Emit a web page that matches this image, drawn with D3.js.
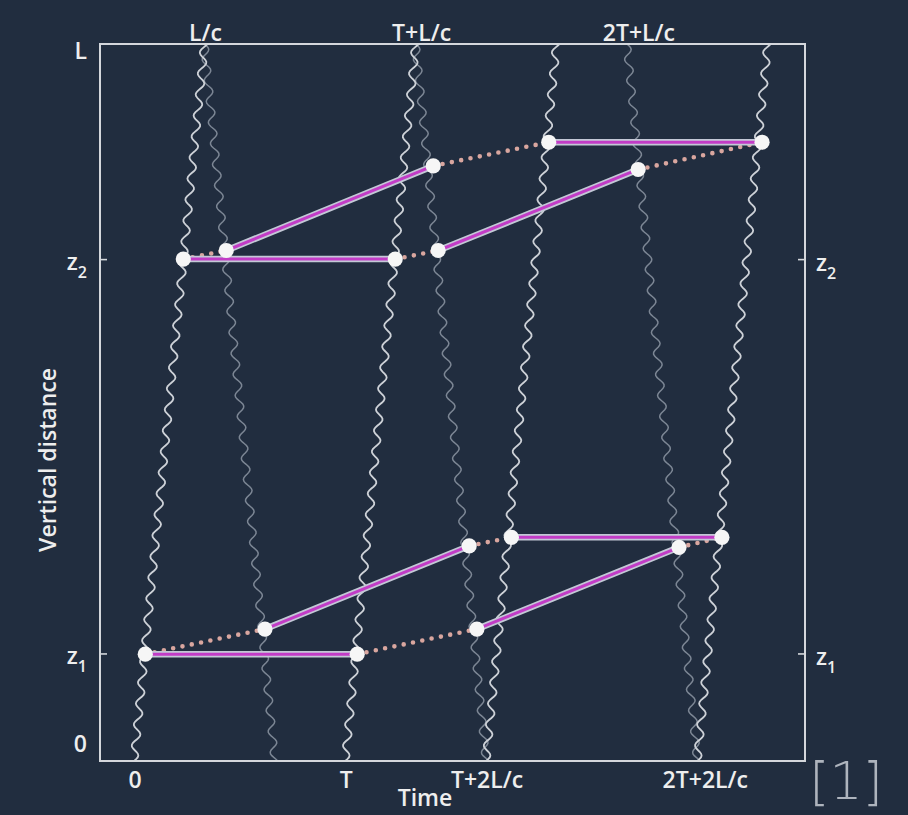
<!DOCTYPE html>
<html>
<head>
<meta charset="utf-8">
<script src="https://cdn.jsdelivr.net/npm/d3@7/dist/d3.min.js"></script>
<style>
  html, body { margin: 0; padding: 0; background: #212d3f; }
  svg { display: block; }
  text { font-family: "Open Sans", "Lato", sans-serif; fill: #eeeeee; font-weight: 600; }
</style>
</head>
<body>
<svg id="chart" width="908" height="815"></svg>
<script>
// ---------------- DATA (time in units of L/c, height in units of L; T = 3 L/c) ----------------
const lightTravel = 1;                  // L/c
const upRayStarts = [0, 3, 5, 8];       // signals leaving the bottom at 0, T, T+2L/c, 2T+2L/c
const downRayStarts = [1, 4, 7];        // reflected signals leaving the top at L/c, T+L/c, 2T+L/c

const bottomTickValues = [0, 3, 5, 8];
const bottomTickLabels = ["0", "T", "T+2L/c", "2T+2L/c"];
const topTickValues = [1, 4, 7];
const topTickLabels = ["L/c", "T+L/c", "2T+L/c"];
const leftTickValues = [1, 0.70, 0.15, 0];
const leftTickLabels = [["L", ""], ["z", "2"], ["z", "1"], ["0", ""]];
const rightTickValues = [0.70, 0.15];
const rightTickLabels = [["z", "2"], ["z", "1"]];

// events (reception / emission points on the two mirrors)
const eventIds = ["A", "B", "C", "D", "E", "F", "G", "H", "P", "Q", "R", "S", "U", "V", "W", "X"];
const eventTime = [0.70, 1.31, 4.25, 5.89, 8.92, 3.71, 4.32, 7.16, 0.16, 1.86, 4.76, 5.36, 8.35, 3.17, 4.87, 7.74];
const eventHeight = [0.700, 0.712, 0.830, 0.863, 0.863, 0.700, 0.712, 0.825, 0.149, 0.184, 0.300, 0.312, 0.312, 0.149, 0.184, 0.298];

const solidSegments = [["A", "F"], ["B", "C"], ["D", "E"], ["G", "H"], ["P", "V"], ["Q", "R"], ["S", "U"], ["W", "X"]];
const dottedSegments = [["A", "B"], ["C", "D"], ["F", "G"], ["H", "E"], ["P", "Q"], ["R", "S"], ["V", "W"], ["X", "U"]];

// ---------------- DRAWING ----------------
const svg = d3.select("#chart");
svg.append("rect").attr("width", 908).attr("height", 815).attr("fill", "#212d3f");

const x = d3.scaleLinear().domain([-0.483, 9.53]).range([100, 805]);
const y = d3.scaleLinear().domain([0, 1]).range([761, 44]);

const ev = {};
eventIds.forEach((id, i) => ev[id] = [eventTime[i], eventHeight[i]]);

// wavy light signals
const amp = 3.8, period = 21, N = 400;
function rayPath(t0, up) {
  const pts = [];
  const span = y(0) - y(1);
  for (let i = 0; i <= N; i++) {
    const s = i / N;
    const z = up ? s : 1 - s;
    const t = t0 + s * lightTravel;
    const d = s * span;
    pts.push([x(t) + amp * Math.sin(2 * Math.PI * d / period), y(z)]);
  }
  return d3.line()(pts);
}
const rays = svg.append("g");
downRayStarts.forEach(t0 => {
  rays.append("path").attr("d", rayPath(t0, false))
    .attr("fill", "none").attr("stroke", "#7c8694").attr("stroke-width", 1.5);
});
upRayStarts.forEach(t0 => {
  rays.append("path").attr("d", rayPath(t0, true))
    .attr("fill", "none").attr("stroke", "#cdd1d7").attr("stroke-width", 1.8);
});

// frame
const [x0, x1] = x.range();
const [yb, yt] = y.range();
svg.append("rect").attr("x", x0).attr("y", yt).attr("width", x1 - x0).attr("height", yb - yt)
  .attr("fill", "none").attr("stroke", "#d4d7dc").attr("stroke-width", 2);

// inner ticks
const axL = svg.append("g").attr("transform", `translate(${x0},0)`)
  .call(d3.axisLeft(y).tickValues(rightTickValues).tickSize(-7).tickFormat(""));
const axR = svg.append("g").attr("transform", `translate(${x1},0)`)
  .call(d3.axisRight(y).tickValues(rightTickValues).tickSize(-7).tickFormat(""));
[axL, axR].forEach(a => {
  a.select(".domain").remove();
  a.selectAll("line").attr("stroke", "#d4d7dc").attr("stroke-width", 1.6);
});

// worldlines
const wl = svg.append("g");
const lineOf = seg => d3.line()(seg.map(id => [x(ev[id][0]), y(ev[id][1])]));
dottedSegments.forEach(seg => {
  wl.append("path").attr("d", lineOf(seg)).attr("fill", "none")
    .attr("stroke", "#d9a69f").attr("stroke-width", 4.6)
    .attr("stroke-linecap", "round").attr("stroke-dasharray", "0 9.5");
});
solidSegments.forEach(seg => {
  wl.append("path").attr("d", lineOf(seg)).attr("fill", "none")
    .attr("stroke", "#c3c8d6").attr("stroke-width", 6.5);
  wl.append("path").attr("d", lineOf(seg)).attr("fill", "none")
    .attr("stroke", "#c23cc6").attr("stroke-width", 3);
});
svg.append("g").selectAll("circle").data(eventIds).join("circle")
  .attr("cx", id => x(ev[id][0])).attr("cy", id => y(ev[id][1]))
  .attr("r", 7.6).attr("fill", "#f6f6f6");

// labels
const fs = 23;
const bottomNudge = [1, 1, 1, 8];
bottomTickValues.forEach((v, i) => {
  svg.append("text").attr("x", x(v) + bottomNudge[i]).attr("y", 788)
    .attr("text-anchor", "middle").attr("font-size", fs).text(bottomTickLabels[i]);
});
const topNudge = [1, 6, 12];
topTickValues.forEach((v, i) => {
  svg.append("text").attr("x", x(v) + topNudge[i]).attr("y", 41)
    .attr("text-anchor", "middle").attr("font-size", fs).text(topTickLabels[i]);
});
function zLabel(g, xp, yp, anchor, parts) {
  const t = g.append("text").attr("x", xp).attr("y", yp).attr("text-anchor", anchor).attr("font-size", fs);
  t.append("tspan").text(parts[0]);
  if (parts[1]) t.append("tspan").attr("font-size", 16).attr("dy", 8).text(parts[1]);
}
const leftDy = [15, 11, 11, -9];
leftTickValues.forEach((v, i) => {
  zLabel(svg, 87, y(v) + leftDy[i], "end", leftTickLabels[i]);
});
rightTickValues.forEach((v, i) => {
  zLabel(svg, 816, y(v) + 12, "start", rightTickLabels[i]);
});

svg.append("text").attr("x", 425).attr("y", 806).attr("text-anchor", "middle")
  .attr("font-size", fs).text("Time");
svg.append("text").attr("transform", "translate(56,460) rotate(-90)")
  .attr("text-anchor", "middle").attr("font-size", fs).text("Vertical distance");

svg.append("text").attr("x", 846).attr("y", 799).attr("text-anchor", "middle")
  .attr("font-size", 52)
  .style("font-weight", 200)
  .style("fill", "#aeb4bd").style("font-family", "'DejaVu Sans', sans-serif").text("[1]");
</script>
</body>
</html>
